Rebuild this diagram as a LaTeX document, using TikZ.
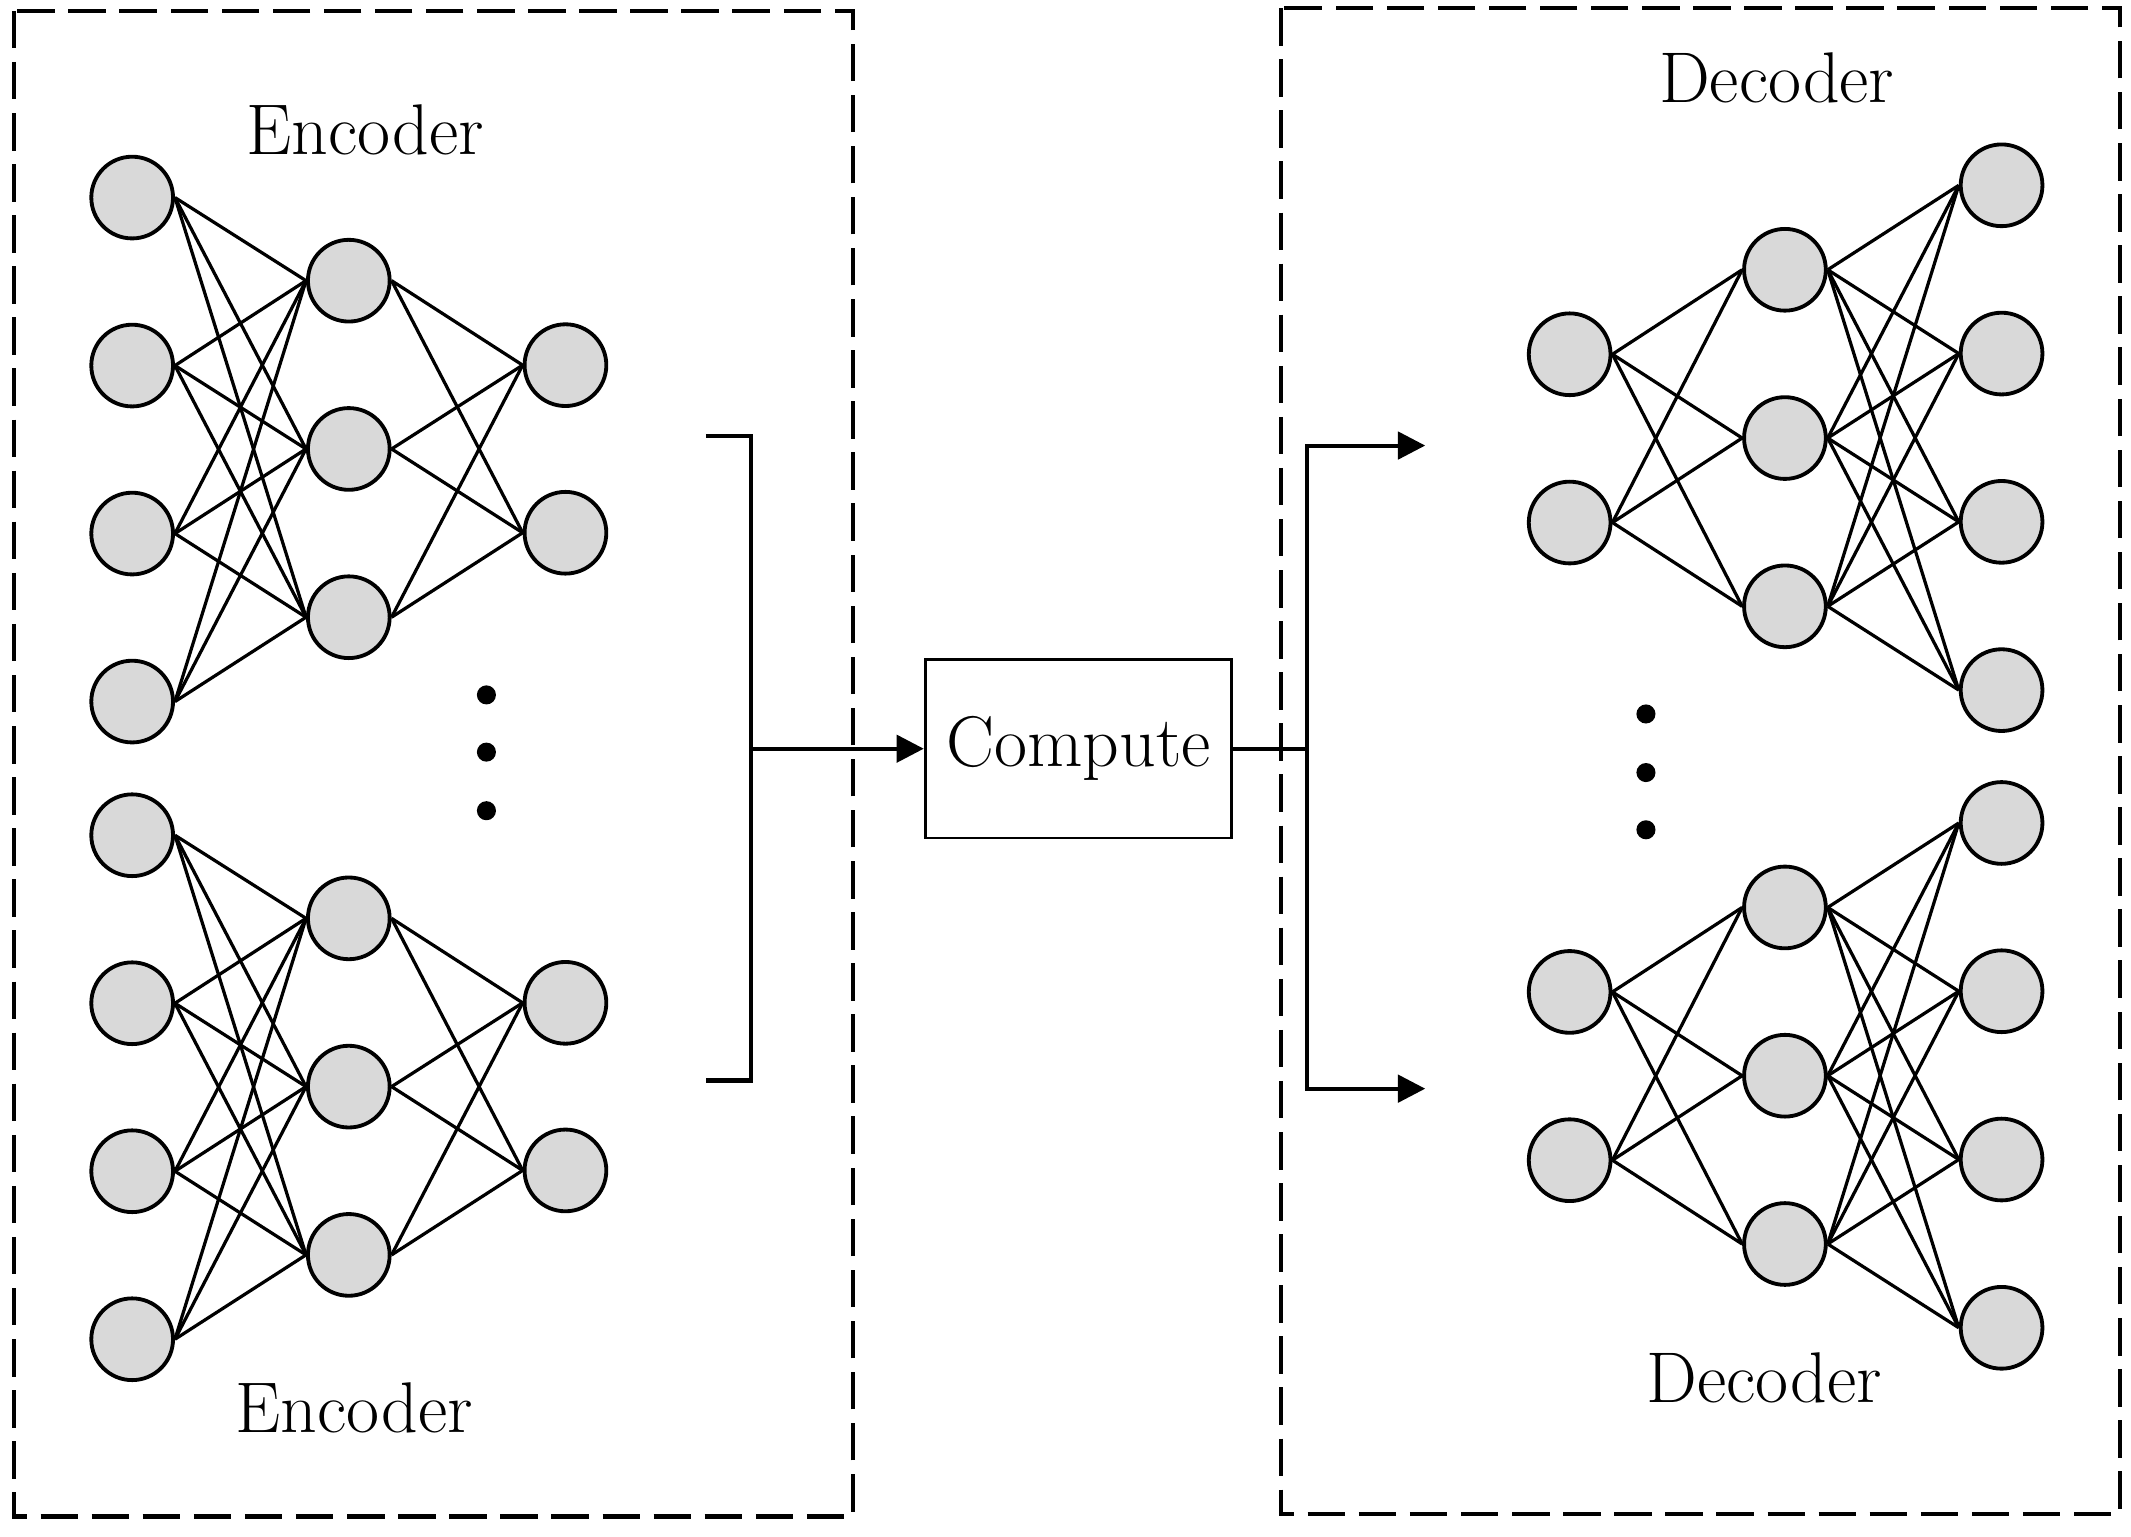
\documentclass[tikz,border=0pt]{standalone}
\usepackage{fontspec}
\usepackage{tikz}
\usetikzlibrary{arrows.meta}

\tikzset{
  neuron/.style={circle,draw,line width=1.6pt,fill=black!15,minimum size=1.2cm,inner sep=0pt},
  conn/.style={line width=1.35pt},
  frame/.style={line width=1.7pt,dash pattern=on 0.55cm off 0.2cm},
  wire/.style={line width=1.7pt},
  arrowline/.style={line width=1.7pt,-{Triangle[length=0.4cm,width=0.4cm]}},
  dot/.style={circle,fill,minimum size=0.28cm,inner sep=0pt},
  title/.style={font=\fontsize{30}{36}\selectfont},
}

\begin{document}
\begin{tikzpicture}[x=0.02cm,y=-0.02cm]
  \useasboundingbox (0,0) rectangle (1564,1128);
  % dashed frames
  \draw[frame] (10,8) rectangle (626,1113);
  \draw[frame] (940,6) rectangle (1556,1111);

  % encoders
  \foreach \b/\dy in {a/0,b/468}{
    \foreach \i in {1,...,4}
      \node[neuron] (ei\b\i) at (97,{145+123.3*(\i-1)+\dy}) {};
    \foreach \j in {1,...,3}
      \node[neuron] (eh\b\j) at (256,{206+123.5*(\j-1)+\dy}) {};
    \foreach \k in {1,2}
      \node[neuron] (eo\b\k) at (415,{268+123*(\k-1)+\dy}) {};
    \foreach \i in {1,...,4}
      \foreach \j in {1,...,3}
        \draw[conn] (ei\b\i.east) -- (eh\b\j.west);
    \foreach \j in {1,...,3}
      \foreach \k in {1,2}
        \draw[conn] (eh\b\j.east) -- (eo\b\k.west);
  }
  \node[title] (enctop) at (268,95) {Encoder};
  \node[title] (encbot) at (260,1033) {Encoder};
  \node[dot] (edot1) at (357,510) {};
  \node[dot] (edot2) at (357,552) {};
  \node[dot] (edot3) at (357,595) {};

  % decoders
  \foreach \b/\dy in {a/0,b/468}{
    \foreach \i in {1,2}
      \node[neuron] (di\b\i) at (1152,{260+123.5*(\i-1)+\dy}) {};
    \foreach \j in {1,...,3}
      \node[neuron] (dh\b\j) at (1310,{198+123.5*(\j-1)+\dy}) {};
    \foreach \k in {1,...,4}
      \node[neuron] (do\b\k) at (1469,{136+123.5*(\k-1)+\dy}) {};
    \foreach \i in {1,2}
      \foreach \j in {1,...,3}
        \draw[conn] (di\b\i.east) -- (dh\b\j.west);
    \foreach \j in {1,...,3}
      \foreach \k in {1,...,4}
        \draw[conn] (dh\b\j.east) -- (do\b\k.west);
  }
  \node[title] (dectop) at (1304,57) {Decoder};
  \node[title] (decbot) at (1295,1011) {Decoder};
  \node[dot] (ddot1) at (1208,524) {};
  \node[dot] (ddot2) at (1208,567) {};
  \node[dot] (ddot3) at (1208,609) {};

  % compute block
  \node[title,draw,line width=1.2pt,minimum width=4.5cm,minimum height=2.62cm,inner sep=0pt] (compute) at (791.5,549.5) {Compute};

  % bracket and arrows
  \coordinate (brt) at (518,320);
  \coordinate (brtop) at (551,320);
  \coordinate (brbot) at (551,793);
  \coordinate (brb) at (518,793);
  \draw[wire] (brt) -- (brtop) -- (brbot) -- (brb);
  \draw[arrowline] (compute.west -| brtop) -- (compute.west);

  \coordinate (split) at (959,549.5);
  \coordinate (dtop) at (1046,327);
  \coordinate (dbot) at (1046,799);
  \draw[wire] (compute.east) -- (split);
  \draw[arrowline] (split) |- (dtop);
  \draw[arrowline] (split) |- (dbot);
\end{tikzpicture}
\end{document}
